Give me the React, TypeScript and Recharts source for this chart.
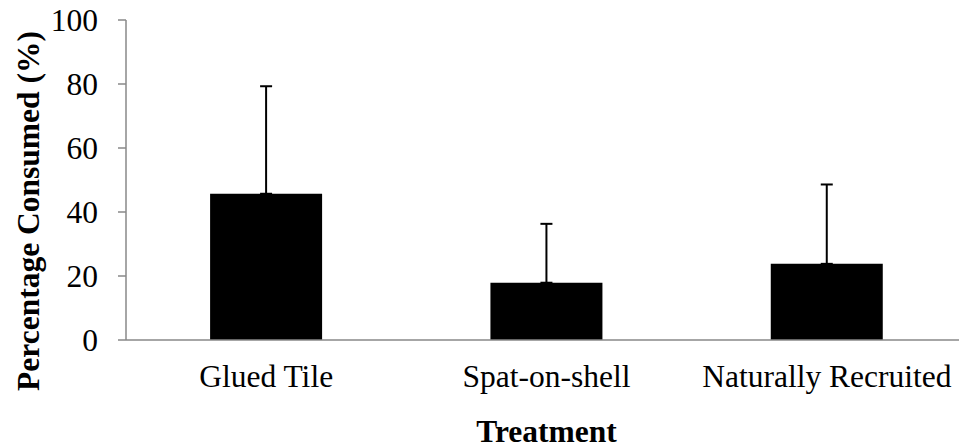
import React from 'react';
import { BarChart, Bar, XAxis, YAxis, ErrorBar, Label } from 'recharts';

const categories = ['Glued Tile', 'Spat-on-shell', 'Naturally Recruited'];
const means = [45.7, 17.9, 23.8];
const upperErrors = [33.6, 18.4, 24.8];
const yTicks = [0, 20, 40, 60, 80, 100];
const boundaryTicks = [0, 1, 2, 3];

const data = categories.map((name, i) => ({
  name,
  mean: means[i],
  err: [0, upperErrors[i]],
}));

const font = "'Liberation Serif', 'Times New Roman', serif";
const axisGray = '#898989';
const fs = 31.5;

export default function App() {
  return (
    <div style={{ position: 'absolute', left: 0, top: 0, width: 959, height: 447, overflow: 'hidden', background: '#fff' }}>
      <BarChart
        width={967}
        height={447}
        data={data}
        margin={{ top: 20, right: 0, bottom: 0, left: 0 }}
        barCategoryGap="30%"
      >
        {/* boundary tick marks between categories */}
        <XAxis
          xAxisId="bounds"
          type="number"
          domain={[0, 3]}
          ticks={boundaryTicks}
          height={0}
          axisLine={false}
          tick={false}
          tickLine={{ stroke: axisGray, strokeWidth: 1.5 }}
          tickSize={8}
        />
        <XAxis
          dataKey="name"
          height={107}
          axisLine={{ stroke: axisGray, strokeWidth: 1.5 }}
          tickLine={false}
          tickSize={0}
          tickMargin={24.5}
          tick={{ fill: '#000', fontSize: fs, fontFamily: font }}
        >
          <Label
            content={({ viewBox }: any) => (
              <text
                x={viewBox.x + viewBox.width / 2}
                y={442}
                textAnchor="middle"
                fontFamily={font}
                fontSize={fs}
                fontWeight="bold"
                fill="#000"
              >
                Treatment
              </text>
            )}
          />
        </XAxis>
        <YAxis
          width={126}
          domain={[0, 100]}
          ticks={yTicks}
          axisLine={{ stroke: axisGray, strokeWidth: 1.5 }}
          tickLine={{ stroke: axisGray, strokeWidth: 1.5 }}
          tickSize={8}
          tickMargin={20}
          tick={{ fill: '#000', fontSize: fs, fontFamily: font }}
        >
          <Label
            content={() => (
              <text
                x={28}
                y={211}
                transform="rotate(-90 28 211)"
                textAnchor="middle"
                dominantBaseline="central"
                fontFamily={font}
                fontSize={fs}
                fontWeight="bold"
                fill="#000"
              >
                Percentage Consumed (%)
              </text>
            )}
          />
        </YAxis>
        <Bar dataKey="mean" fill="#000" isAnimationActive={false}>
          <ErrorBar dataKey="err" direction="y" width={6} stroke="#000" strokeWidth={2} isAnimationActive={false} />
        </Bar>
      </BarChart>
    </div>
  );
}
